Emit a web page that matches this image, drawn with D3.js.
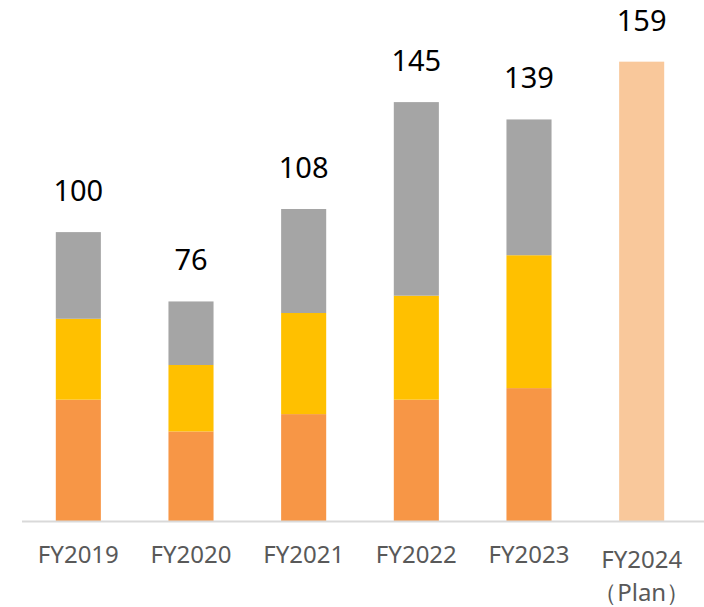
<!DOCTYPE html>
<html>
<head>
<meta charset="utf-8">
<script src="https://cdn.jsdelivr.net/npm/d3@7"></script>
<style>
body { margin: 0; background: #fff; }
</style>
</head>
<body>
<div></div>
<script>
var years = ["FY2019", "FY2020", "FY2021", "FY2022", "FY2023", "FY2024"]
var subLabels = ["", "", "", "", "", "（Plan）"]
var bottomPart = [42, 31, 37, 42, 46, 0]
var middlePart = [28, 23, 35, 36, 46, 0]
var topPart = [30, 22, 36, 67, 47, 0]
var planTotal = [0, 0, 0, 0, 0, 159]

var W = 704, H = 607

var svg = d3.select("div")
  .append("svg")
  .attr("width", W)
  .attr("height", H)

var x = d3.scaleBand()
  .domain(years)
  .range([22, 698])
  .paddingInner(0.6)
  .paddingOuter(0.3)

var y = d3.scaleLinear()
  .domain([0, 180])
  .range([521, 1])

var rows = years.map(function (yr, i) {
  return { year: yr, bottom: bottomPart[i], middle: middlePart[i], top: topPart[i], plan: planTotal[i] }
})

var stack = d3.stack().keys(["bottom", "middle", "top", "plan"])
var colors = { bottom: "#F79646", middle: "#FFC000", top: "#A5A5A5", plan: "#F9C89B" }

svg.selectAll("g.layer")
  .data(stack(rows))
  .enter()
  .append("g")
  .attr("class", "layer")
  .attr("fill", function (d) { return colors[d.key] })
  .selectAll("rect")
  .data(function (d) { return d })
  .enter()
  .filter(function (d) { return d[1] > d[0] })
  .append("rect")
  .attr("x", function (d) { return x(d.data.year) })
  .attr("width", x.bandwidth())
  .attr("y", function (d) { return y(d[1]) })
  .attr("height", function (d) { return y(d[0]) - y(d[1]) })

// totals above bars
svg.selectAll("text.total")
  .data(rows)
  .enter()
  .append("text")
  .attr("class", "total")
  .attr("x", function (d) { return x(d.year) + x.bandwidth() / 2 })
  .attr("y", function (d) { return y(d.bottom + d.middle + d.top + d.plan) - 31 })
  .attr("text-anchor", "middle")
  .attr("font-family", "'Noto Sans', sans-serif")
  .attr("font-size", 29)
  .attr("fill", "#000")
  .text(function (d) { return d.bottom + d.middle + d.top + d.plan })

// x axis
var axis = svg.append("g")
  .attr("transform", "translate(0,521)")
  .call(d3.axisBottom(x).tickSize(0).tickPadding(0))

axis.select(".domain")
  .attr("d", "M22,0.5H704")
  .attr("stroke", "#D9D9D9")
  .attr("stroke-width", 2)

axis.selectAll(".tick text")
  .attr("font-family", "'Noto Sans', sans-serif")
  .attr("font-size", 24)
  .attr("fill", "#595959")
  .attr("dy", null)
  .attr("y", function (d, i) { return subLabels[i] ? 47 : 42 })
  .each(function (d, i) {
    if (subLabels[i]) {
      d3.select(this).append("tspan")
        .attr("x", 0)
        .attr("dy", 33)
        .text(subLabels[i])
    }
  })
</script>
</body>
</html>
